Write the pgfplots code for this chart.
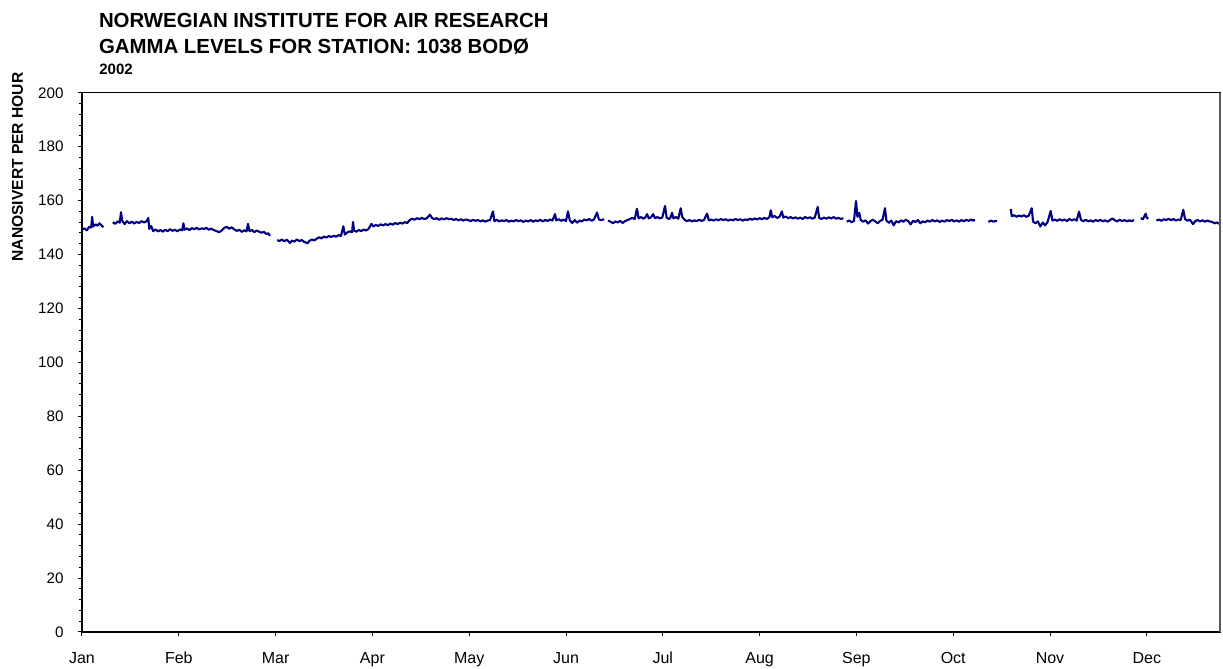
\documentclass[border=0pt]{standalone}
\usepackage{pgfplots}
\pgfplotsset{compat=1.18}
\usepackage{fontspec}
\setmainfont{Liberation Sans}
\definecolor{navyline}{RGB}{0,0,128}
\begin{document}
\begin{tikzpicture}
\path[use as bounding box] (0,0) rectangle (611.5pt,334.5pt);
\begin{axis}[
 at={(41pt,18.5pt)}, anchor=south west,
 scale only axis, width=569pt, height=269.6pt,
 xmin=0, xmax=11.756, ymin=0, ymax=200,
 xtick={0,1,2,3,4,5,6,7,8,9,10,11},
 xticklabels={Jan,Feb,Mar,Apr,May,Jun,Jul,Aug,Sep,Oct,Nov,Dec},
 ytick={0,20,...,200}, minor y tick num=4,
 tick pos=left, tick align=outside,
 major tick length=2pt, minor tick length=1.5pt,
 every tick/.style={black, line width=0.5pt},
 axis line style={black, line width=0.6pt},
 unbounded coords=jump,
 /pgf/number format/assume math mode=true,
 yticklabel style={font=\fontsize{7.6}{9}\selectfont, anchor=east, inner sep=0pt, xshift=-7pt},
 xticklabel style={font=\fontsize{8}{9}\selectfont, anchor=base, inner sep=0pt, yshift=-14pt},
]
\addplot[navyline, line width=1.05pt, line join=round] table {
x y
0.000 149.2
0.025 149.7
0.050 149.0
0.075 150.3
0.095 150.0
0.105 154.0
0.115 150.4
0.140 151.2
0.160 150.7
0.180 151.6
0.200 150.9
0.220 150.1
nan nan
0.317 152.0
0.345 151.4
0.370 152.3
0.390 151.8
0.403 155.7
0.415 152.6
0.440 151.3
0.465 152.4
0.490 151.6
0.515 152.2
0.540 151.5
0.565 152.1
0.590 151.7
0.615 152.4
0.640 151.9
0.665 152.3
0.685 153.6
0.695 149.5
0.715 150.6
0.735 148.7
0.760 149.3
0.785 148.6
0.810 149.1
0.835 148.5
0.860 149.2
0.885 148.7
0.910 149.4
0.935 148.8
0.960 149.2
0.985 148.6
1.010 149.3
1.035 149.0
1.047 151.6
1.060 149.2
1.085 149.7
1.110 149.1
1.135 149.8
1.160 149.4
1.185 149.9
1.210 149.3
1.235 149.7
1.260 149.5
1.285 149.9
1.310 149.2
1.335 149.6
1.360 149.1
1.390 148.7
1.415 148.3
1.440 148.8
1.470 149.9
1.495 150.3
1.520 149.6
1.545 150.1
1.570 149.4
1.600 148.8
1.625 149.2
1.650 148.4
1.675 149.0
1.700 148.6
1.715 151.4
1.730 148.7
1.755 149.1
1.780 148.3
1.805 148.9
1.830 148.5
1.855 148.1
1.880 148.4
1.905 147.6
1.925 147.9
1.942 146.9
nan nan
2.017 145.4
2.040 145.0
2.065 145.6
2.090 144.9
2.115 145.5
2.150 144.3
2.170 145.2
2.195 144.8
2.220 145.6
2.245 145.0
2.270 145.4
2.295 144.7
2.330 144.2
2.350 145.1
2.375 145.6
2.400 145.2
2.425 145.9
2.450 146.4
2.475 146.0
2.500 146.7
2.525 146.3
2.550 146.9
2.575 146.5
2.600 147.0
2.625 146.6
2.650 147.2
2.675 146.9
2.700 150.5
2.715 147.4
2.740 148.2
2.765 148.6
2.790 148.3
2.800 152.1
2.810 148.9
2.835 148.5
2.860 149.1
2.885 148.7
2.910 149.3
2.935 148.9
2.960 149.5
2.990 151.4
3.010 150.4
3.035 151.0
3.060 150.6
3.085 151.2
3.110 150.8
3.135 151.3
3.160 150.9
3.185 151.5
3.210 151.1
3.235 151.7
3.260 151.3
3.285 151.8
3.310 151.5
3.335 152.0
3.360 151.7
3.385 152.8
3.410 153.3
3.435 152.9
3.460 153.5
3.485 153.1
3.510 153.6
3.535 153.2
3.560 153.4
3.595 154.8
3.615 153.6
3.640 153.1
3.665 153.5
3.690 152.9
3.715 153.4
3.740 153.0
3.765 153.5
3.790 153.1
3.815 153.3
3.840 152.8
3.865 153.2
3.890 152.7
3.915 153.1
3.940 152.6
3.965 153.0
3.990 152.8
4.015 152.4
4.040 152.9
4.065 152.5
4.090 152.8
4.115 152.3
4.140 152.7
4.165 152.2
4.190 152.6
4.215 152.8
4.246 156.0
4.260 152.4
4.285 152.9
4.310 152.3
4.335 152.7
4.360 152.4
4.385 152.8
4.410 152.2
4.435 152.6
4.460 152.3
4.485 152.8
4.510 152.4
4.535 152.7
4.560 152.1
4.585 152.6
4.610 152.3
4.635 152.8
4.660 152.2
4.685 152.7
4.710 152.4
4.735 152.9
4.760 152.3
4.785 152.8
4.810 152.5
4.835 153.0
4.860 152.6
4.886 155.0
4.900 152.7
4.925 153.1
4.950 152.5
4.975 153.0
5.000 152.4
5.020 156.0
5.040 152.6
5.065 151.7
5.090 152.8
5.115 151.8
5.140 152.6
5.165 152.3
5.190 153.0
5.215 152.7
5.240 153.2
5.265 152.5
5.290 153.1
5.320 155.6
5.340 153.0
5.365 152.8
5.395 153.1
nan nan
5.434 152.6
5.460 152.2
5.485 151.6
5.510 152.3
5.535 151.9
5.560 152.5
5.585 151.7
5.610 152.4
5.635 152.8
5.660 153.2
5.685 153.6
5.710 153.2
5.733 157.0
5.750 153.4
5.775 153.9
5.800 153.3
5.820 153.8
5.837 155.0
5.855 153.4
5.880 153.9
5.900 155.0
5.920 153.5
5.945 153.9
5.970 153.4
5.995 153.8
6.023 158.0
6.040 153.6
6.065 153.2
6.080 153.8
6.095 155.5
6.110 153.4
6.135 153.9
6.160 153.3
6.185 157.2
6.200 154.0
6.225 152.9
6.250 152.4
6.275 152.8
6.300 152.3
6.325 152.7
6.350 152.4
6.375 152.9
6.400 152.5
6.425 152.8
6.457 155.2
6.475 152.7
6.500 153.0
6.525 152.6
6.550 153.1
6.575 152.7
6.600 153.2
6.625 152.8
6.650 153.1
6.675 152.6
6.700 153.0
6.725 152.7
6.750 153.2
6.775 152.8
6.800 153.1
6.825 152.6
6.850 153.0
6.875 152.8
6.900 153.3
6.925 152.9
6.950 153.4
6.975 153.0
7.000 153.5
7.025 153.1
7.050 153.6
7.075 153.2
7.100 153.8
7.115 156.4
7.130 153.9
7.155 154.3
7.180 153.6
7.205 154.0
7.230 156.0
7.245 153.7
7.270 154.1
7.295 153.5
7.320 153.9
7.345 153.4
7.370 153.8
7.395 153.3
7.420 153.7
7.445 153.2
7.470 153.9
7.495 153.5
7.520 153.8
7.545 153.3
7.570 153.7
7.600 157.7
7.615 153.6
7.640 153.2
7.665 153.7
7.690 153.3
7.715 153.8
7.740 153.4
7.765 153.9
7.790 153.3
7.815 153.6
7.840 153.2
7.865 153.5
nan nan
7.900 152.2
7.925 152.6
7.950 152.0
7.975 152.5
7.996 159.9
8.010 154.0
8.030 155.5
8.045 152.8
8.070 152.2
8.095 152.7
8.120 151.5
8.145 152.4
8.170 152.9
8.195 152.3
8.220 151.6
8.245 152.5
8.270 152.9
8.295 157.2
8.310 152.6
8.335 151.8
8.360 152.6
8.385 150.8
8.410 152.4
8.435 151.9
8.460 152.7
8.485 152.2
8.510 152.9
8.535 152.4
8.560 151.2
8.585 152.5
8.610 152.1
8.635 152.8
8.660 151.6
8.685 152.3
8.710 152.0
8.735 152.6
8.760 152.2
8.785 152.8
8.810 152.3
8.835 152.7
8.860 152.1
8.885 152.6
8.910 152.2
8.935 152.8
8.960 152.4
8.985 152.9
9.010 152.3
9.035 152.7
9.060 152.2
9.085 152.8
9.110 152.3
9.135 152.9
9.160 152.5
9.185 153.0
9.205 152.6
9.225 152.9
nan nan
9.363 152.1
9.390 152.6
9.415 152.2
9.440 152.5
9.453 152.3
nan nan
9.594 156.9
9.605 154.2
9.630 154.6
9.655 154.0
9.680 154.5
9.705 154.1
9.730 154.6
9.755 154.0
9.780 154.4
9.811 157.2
9.825 152.2
9.850 151.6
9.875 152.3
9.900 150.4
9.925 151.9
9.950 150.8
9.975 152.1
10.007 156.2
10.025 152.6
10.050 153.0
10.075 152.5
10.100 153.1
10.125 152.6
10.150 153.0
10.175 152.4
10.200 153.2
10.225 152.7
10.250 153.1
10.275 152.6
10.300 155.9
10.320 152.8
10.345 152.4
10.370 152.9
10.395 152.3
10.420 152.7
10.445 152.2
10.470 152.8
10.495 152.4
10.520 152.9
10.545 152.3
10.570 152.7
10.595 152.2
10.620 152.8
10.645 153.4
10.670 152.7
10.695 152.3
10.720 152.9
10.745 152.4
10.770 152.8
10.795 152.3
10.820 152.7
10.845 152.4
10.868 152.8
nan nan
10.937 153.5
10.960 153.1
10.988 155.2
11.000 153.6
11.016 153.3
nan nan
11.100 152.6
11.125 153.0
11.150 152.5
11.175 153.1
11.200 152.8
11.225 153.3
11.250 152.7
11.275 153.2
11.300 152.6
11.325 153.0
11.350 152.8
11.377 156.6
11.395 153.1
11.420 152.6
11.445 152.9
11.477 151.3
11.500 152.4
11.525 152.8
11.550 152.3
11.575 152.7
11.600 152.2
11.625 152.6
11.650 152.3
11.675 152.1
11.700 151.6
11.725 151.9
11.749 151.4
};
\end{axis}
\draw[gray!70!black, line width=0.6pt] (610pt,18.5pt) -- (610pt,288.1pt);
\node[anchor=base west, inner sep=0pt, font=\bfseries\fontsize{10.2}{12}\selectfont] at (49.3pt,320.8pt) {NORWEGIAN INSTITUTE FOR AIR RESEARCH};
\node[anchor=base west, inner sep=0pt, font=\bfseries\fontsize{10.2}{12}\selectfont] at (49.3pt,307.8pt) {GAMMA LEVELS FOR STATION: 1038 BODØ};
\node[anchor=base west, inner sep=0pt, font=\bfseries\fontsize{7.5}{9}\selectfont] at (49.5pt,297pt) {2002};
\node[rotate=90, inner sep=0pt, font=\bfseries\fontsize{7.8}{9}\selectfont] at (8.7pt,251pt) {NANOSIVERT PER HOUR};
\end{tikzpicture}
\end{document}
